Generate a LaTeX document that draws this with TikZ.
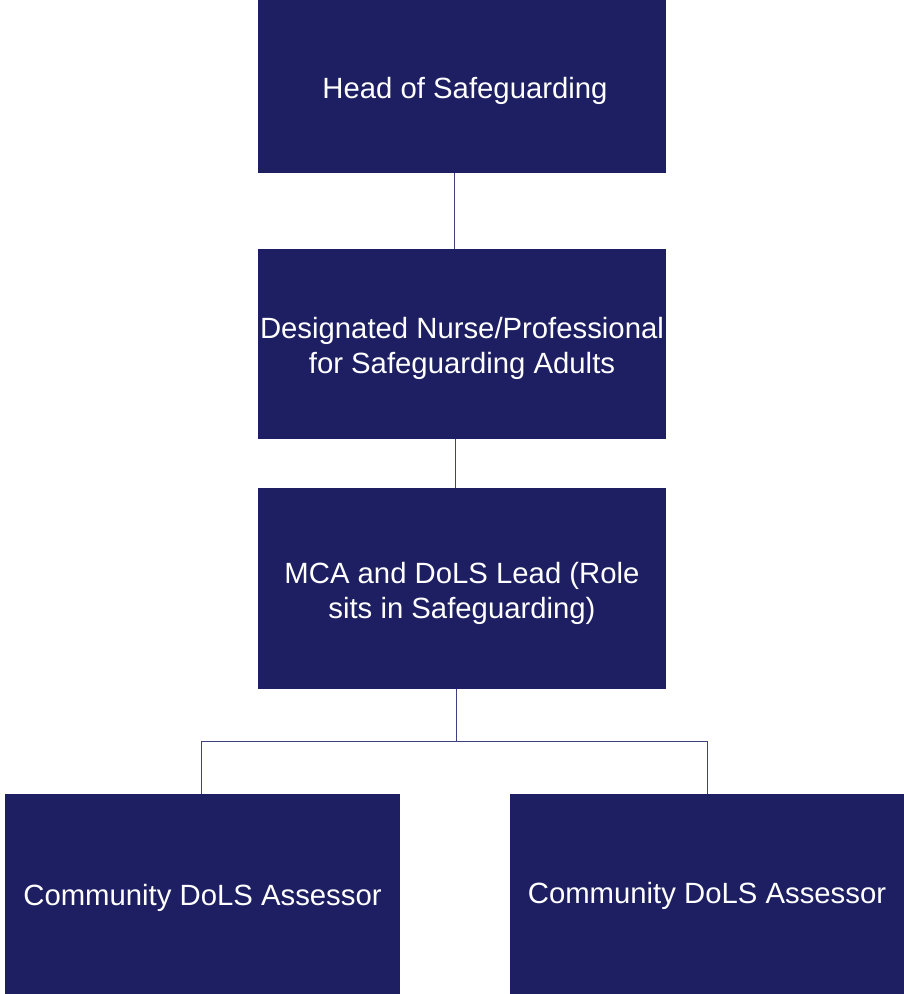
\documentclass[tikz,border=0pt]{standalone}
\usepackage{fontspec}
\setmainfont{Liberation Sans}
\definecolor{navy}{HTML}{1D1F62}
\definecolor{linec}{HTML}{3E4080}
\tikzset{
  rolebox/.style={rectangle, fill=navy, draw=none, inner sep=0pt},
  roletext/.style={inner sep=0pt, text=white, align=center,
    font=\fontsize{29.3}{35}\selectfont},
  conn/.style={draw=linec, line width=1pt}
}
\begin{document}
\begin{tikzpicture}
\useasboundingbox (0pt,0pt) rectangle (904pt,-994pt);
\node[rolebox, minimum width=408pt, minimum height=173pt] (b1) at (462pt,-86.5pt) {};
\node[rolebox, minimum width=408pt, minimum height=190pt] (b2) at (462pt,-344pt) {};
\node[rolebox, minimum width=408pt, minimum height=201pt] (b3) at (462pt,-588.5pt) {};
\node[rolebox, minimum width=395pt, minimum height=200pt] (l) at (202.5pt,-894pt) {};
\node[rolebox, minimum width=394pt, minimum height=200pt] (r) at (707pt,-894pt) {};
\node[roletext] (t1) at ([shift={(3pt,-4pt)}]b1.center) {Head of Safeguarding};
\node[roletext] (t2) at ([yshift=-4pt]b2.center) {Designated Nurse/Professional\\for Safeguarding Adults};
\node[roletext] (t3) at ([yshift=-5pt]b3.center) {MCA and DoLS Lead (Role\\sits in Safeguarding)};
\node[roletext] (tl) at ([yshift=-4pt]l.center) {Community DoLS Assessor};
\node[roletext] (tr) at ([yshift=-2pt]r.center) {Community DoLS Assessor};
\draw[conn] ([xshift=-8pt]b1.south) -- ([xshift=-8pt]b2.north);
\draw[conn] ([xshift=-7pt]b2.south) -- ([xshift=-7pt]b3.north);
\draw[conn] ([xshift=-6pt]b3.south) -- ++(0,-52pt) coordinate (j);
\draw[conn] ([xshift=-1.5pt]l.north) |- (j) -| (r.north);
\end{tikzpicture}
\end{document}
